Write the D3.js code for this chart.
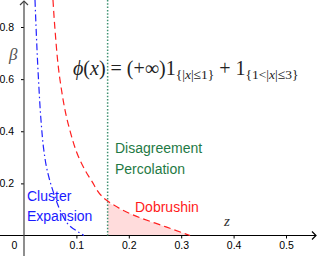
<!DOCTYPE html>
<html>
<head>
<meta charset="utf-8">
<script src="https://cdn.jsdelivr.net/npm/d3@7"></script>
<style>
  body { margin: 0; background: #fff; }
  svg { display: block; }
</style>
</head>
<body>
<div id="chart"></div>
<script>
// values
const xTicks = [0.1, 0.2, 0.3, 0.4, 0.5];
const yTicks = [0.2, 0.4, 0.6, 0.8];

// Dobrushin (red dashed)
const dobZ =    [0.0553, 0.0592, 0.0687, 0.0859, 0.1069, 0.1279, 0.1584, 0.208, 0.271, 0.317];
const dobBeta = [0.904,  0.789,  0.597,  0.416,  0.289,  0.213,  0.134,  0.079, 0.033, 0];

// Cluster expansion (blue dash-dot)
const clZ =    [0.021, 0.0277, 0.0324, 0.0378, 0.0429, 0.0506, 0.0592, 0.0716, 0.0878, 0.1145];
const clBeta = [0.904, 0.597,  0.443,  0.328,  0.263,  0.201,  0.148,  0.086,  0.036,  0];

// Disagreement percolation (vertical dotted line)
const dpZ = 0.1596;

const w = 318;
const h = 256;

// scales
const x = d3.scaleLinear().domain([0, 0.5]).range([24, 286]);
const y = d3.scaleLinear().domain([0, 0.8]).range([235.5, 27]);

const svg = d3.select('#chart')
    .append('svg')
    .attr('width', w)
    .attr('height', h);

const dob = dobZ.map((z, i) => [z, dobBeta[i]]);
const cl = clZ.map((z, i) => [z, clBeta[i]]);

// shaded region right of the dotted line, under Dobrushin
svg.append('clipPath')
    .attr('id', 'right')
    .append('rect')
    .attr('x', x(dpZ))
    .attr('y', 0)
    .attr('width', w)
    .attr('height', h);

svg.append('path')
    .datum(dob)
    .attr('clip-path', 'url(#right)')
    .attr('fill', '#ffdcdc')
    .attr('d', d3.area()
        .curve(d3.curveMonotoneX)
        .x((d) => x(d[0]))
        .y0(y(0))
        .y1((d) => y(d[1])));

// beta is monotone along both curves, so interpolate x as a function of y
const line = d3.line()
    .curve(d3.curveMonotoneY)
    .x((d) => x(d[0]))
    .y((d) => y(d[1]));

// axes
const xAxis = d3.axisBottom(x).tickValues(xTicks).tickSize(3).tickPadding(3)
    .tickFormat(d3.format('.1f'));
const yAxis = d3.axisLeft(y).tickValues(yTicks).tickSize(3).tickPadding(7)
    .tickFormat(d3.format('.1f'));

const gx = svg.append('g')
    .attr('transform', 'translate(0,' + y(0) + ')')
    .call(xAxis);
const gy = svg.append('g')
    .attr('transform', 'translate(' + x(0) + ',0)')
    .call(yAxis);

[gx, gy].forEach((g) => {
  g.select('.domain').remove();
  g.selectAll('text')
      .attr('font-family', 'Liberation Sans, Arial, sans-serif')
      .attr('font-size', 10.5)
      .attr('fill', '#000');
  g.selectAll('line').attr('stroke', '#000');
});

// axis lines with arrows
svg.append('line')
    .attr('x1', 0).attr('x2', w - 2)
    .attr('y1', y(0)).attr('y2', y(0))
    .attr('stroke', '#000').attr('stroke-width', 1.2);
svg.append('path')
    .attr('d', 'M' + (w - 6) + ',' + (y(0) - 4) + 'L' + (w - 2) + ',' + y(0) +
      'L' + (w - 6) + ',' + (y(0) + 4))
    .attr('fill', 'none').attr('stroke', '#000').attr('stroke-width', 1.2);

svg.append('line')
    .attr('x1', x(0)).attr('x2', x(0))
    .attr('y1', 1).attr('y2', h)
    .attr('stroke', '#444').attr('stroke-width', 1.2);
svg.append('path')
    .attr('d', 'M' + (x(0) - 4) + ',5L' + x(0) + ',1L' + (x(0) + 4) + ',5')
    .attr('fill', 'none').attr('stroke', '#444').attr('stroke-width', 1.2);

svg.append('text')
    .attr('x', x(0) - 9.5)
    .attr('y', y(0) + 13)
    .attr('text-anchor', 'middle')
    .attr('font-family', 'Liberation Sans, Arial, sans-serif')
    .attr('font-size', 10.5)
    .text('0');

// disagreement percolation line
svg.append('line')
    .attr('x1', x(dpZ)).attr('x2', x(dpZ))
    .attr('y1', 0).attr('y2', y(0))
    .attr('stroke', '#3f9272')
    .attr('stroke-width', 1.5)
    .attr('stroke-dasharray', '1.5,1.8');

// curves
svg.append('path')
    .datum(dob)
    .attr('fill', 'none')
    .attr('stroke', '#ff2020')
    .attr('stroke-width', 1.2)
    .attr('stroke-dasharray', '7,4')
    .attr('d', line);

svg.append('path')
    .datum(cl)
    .attr('fill', 'none')
    .attr('stroke', '#2222ff')
    .attr('stroke-width', 1.2)
    .attr('stroke-dasharray', '7,3,1.5,3')
    .attr('d', line);

// labels
const sans = 'Liberation Sans, Arial, sans-serif';
function label(txt, px, py, color) {
  svg.append('text')
      .attr('x', px).attr('y', py)
      .attr('font-family', sans)
      .attr('font-size', 14)
      .attr('fill', color)
      .text(txt);
}
label('Disagreement', 115, 153, '#1f7a45');
label('Percolation', 115, 174, '#1f7a45');
label('Cluster', 27, 200.5, '#1a1aff');
label('Expansion', 27, 220.5, '#1a1aff');
label('Dobrushin', 135, 211.5, '#ff1a1a');

const serif = 'Liberation Serif, DejaVu Serif, serif';
svg.append('text')
    .attr('x', 9).attr('y', 60)
    .attr('font-family', serif)
    .attr('font-style', 'italic')
    .attr('font-size', 17)
    .attr('fill', '#555')
    .text('β');
svg.append('text')
    .attr('x', 224).attr('y', 226)
    .attr('font-family', serif)
    .attr('font-style', 'italic')
    .attr('font-size', 15)
    .attr('fill', '#333')
    .text('z');

// formula
const f = svg.append('text')
    .attr('x', 73).attr('y', 75)
    .attr('font-family', serif)
    .attr('font-size', 20)
    .attr('fill', '#222');
f.append('tspan').attr('font-style', 'italic').text('ϕ');
f.append('tspan').text('(');
f.append('tspan').attr('font-style', 'italic').text('x');
f.append('tspan').text(') = (+∞)1');
f.append('tspan').attr('font-size', 13.5).attr('dy', 4).text('{|');
f.append('tspan').attr('font-size', 13.5).attr('font-style', 'italic').text('x');
f.append('tspan').attr('font-size', 13.5).text('|≤1}');
f.append('tspan').attr('dy', -4).text(' + 1');
f.append('tspan').attr('font-size', 13.5).attr('dy', 4).text('{1<|');
f.append('tspan').attr('font-size', 13.5).attr('font-style', 'italic').text('x');
f.append('tspan').attr('font-size', 13.5).text('|≤3}');
</script>
</body>
</html>
